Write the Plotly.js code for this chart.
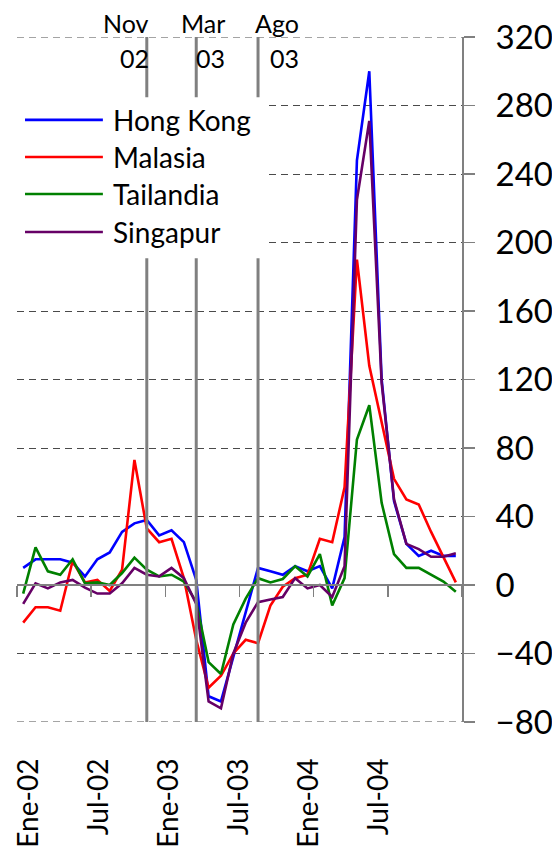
<!DOCTYPE html>
<html><head><meta charset="utf-8">
<script src="https://cdn.plot.ly/plotly-3.0.1.min.js"></script>
<style>html,body{margin:0;padding:0;background:#fff;} #chart{width:552px;height:857px;}</style>
</head><body><div id="chart"></div>
<script>
// Months Jan 2002 - Dec 2004
const months = ['Ene-02','Feb-02','Mar-02','Abr-02','May-02','Jun-02','Jul-02','Ago-02','Sep-02','Oct-02','Nov-02','Dic-02',
                'Ene-03','Feb-03','Mar-03','Abr-03','May-03','Jun-03','Jul-03','Ago-03','Sep-03','Oct-03','Nov-03','Dic-03',
                'Ene-04','Feb-04','Mar-04','Abr-04','May-04','Jun-04','Jul-04','Ago-04','Sep-04','Oct-04','Nov-04','Dic-04'];

const hongKong = [10,15,15,15,13,5,15,19,31,36,38,29,32,25,3,-65,-68,-42,-15,10,8,6,11,8,11,-2,28,248,300,120,49,24,17,20,17,17];
const malasia  = [-22,-13,-13,-15,14,1.5,3,-3.5,9,73,33,25,27,4,-32,-60,-53,-40,-32,-34,-12,-1,4,6,27,25,57,190,128,95,62,50,47,31,16,1.5];
const tailandia= [-5,22,8,6,15,1,1.5,0,7,16,9,5,6,2,-10,-45,-52,-23,-8,4,1.5,3.5,11,5,18,-12,4,85,105,48,18,10,10,6,2,-4];
const singapur = [-11,1,-2,1.5,3,-1.5,-5,-5,1,10,6,5,10,4,-11,-68,-72,-40,-22,-10,-8.5,-7,4,-2,0,-7,11,225,271,118,50,24,21,16.5,16.5,18.5];

const seriesNames  = ['Hong Kong','Malasia','Tailandia','Singapur'];
const seriesValues = [hongKong, malasia, tailandia, singapur];
const seriesColors = ['#0000FF','#FF0000','#008000','#660066'];

const tickLabels = ['Ene-02','Jul-02','Ene-03','Jul-03','Ene-04','Jul-04'];
const eventMonths = ['Nov-02','Mar-03','Ago-03'];
const eventTop = ['Nov','Mar','Ago'];
const eventBottom = ['02','03','03'];
const eventLabelShift = [4, 31, 43];   // px offset of the right edge of each event label from its line

const yMin = -80, yMax = 320;
const xIdx = months.map((m,i)=>i);
const FONT = 'Lato, "Open Sans", sans-serif';
const GRID = {color:'#4a4a4a', width:1, dash:'7px,5px'};

// last series goes on the overlay axis (x2) so it is drawn on top and the zero-line axis exists
const traces = seriesValues.map((v,k)=>({
  type:'scatter', mode:'lines', x:xIdx, y:v, name:seriesNames[k], text:months,
  xaxis: k === seriesValues.length-1 ? 'x2' : 'x', yaxis:'y',
  line:{color:seriesColors[k], width:2.6}, showlegend:false, hoverinfo:'skip'
}));

// label positions as they appear in the reference (slightly compressed spacing)
const labelPos = tickLabels.map(l => months.indexOf(l)*0.945 + 0.45);
const boundaries = [];
for (let i=0;i<=36;i+=6) boundaries.push(i-0.5);

const shapes = [];
const annotations = [];
// top and bottom gridlines (plotly skips gridlines on the range ends)
[yMin, yMax].forEach(v=>{
  shapes.push({type:'line', xref:'paper', yref:'y', x0:0, x1:1, y0:v, y1:v, layer:'below', line:GRID});
});
eventMonths.forEach((m,k)=>{
  const xi = months.indexOf(m);
  shapes.push({type:'line', xref:'x', yref:'y', x0:xi, x1:xi, y0:yMin, y1:yMax, layer:'above',
               line:{color:'#808080', width:3}});
  annotations.push({xref:'x', yref:'paper', x:xi, y:1.0204, xanchor:'right', yanchor:'middle', xshift:eventLabelShift[k],
                    text:eventTop[k], showarrow:false, font:{family:FONT, size:25, color:'#000'}});
  annotations.push({xref:'x', yref:'paper', x:xi, y:0.9693, xanchor:'right', yanchor:'middle', xshift:eventLabelShift[k],
                    text:eventBottom[k], showarrow:false, font:{family:FONT, size:25, color:'#000'}});
});
// legend box
shapes.push({type:'rect', xref:'paper', yref:'paper', x0:0, x1:0.558, y0:0.677, y1:0.912, layer:'above',
             fillcolor:'#fff', line:{width:0}});
const legY = [0.879, 0.8248, 0.7708, 0.7153];
seriesNames.forEach((n,k)=>{
  shapes.push({type:'line', xref:'paper', yref:'paper', x0:0.018, x1:0.193, y0:legY[k], y1:legY[k], layer:'above',
               line:{color:seriesColors[k], width:2.6}});
  annotations.push({xref:'paper', yref:'paper', x:0.212, y:legY[k], xanchor:'left', yanchor:'middle',
                    text:n, showarrow:false, font:{family:FONT, size:28, color:'#000'}});
});

const layout = {
  width:552, height:857,
  margin:{l:17, r:90, t:37, b:135},
  paper_bgcolor:'#fff', plot_bgcolor:'#fff',
  font:{family:FONT, color:'#000'},
  showlegend:false,
  xaxis:{range:[-0.5,35.5], tickmode:'array', tickvals:labelPos, ticktext:tickLabels, tickangle:-90,
         ticks:'', showgrid:false, zeroline:false, showline:false,
         tickfont:{family:FONT, size:28, color:'#000'}, ticklabelstandoff:30},
  xaxis2:{overlaying:'x', anchor:'free', position:(0-yMin)/(yMax-yMin), range:[-0.5,35.5], tickmode:'array', tickvals:boundaries,
          ticks:'outside', ticklen:11, tickwidth:1.5, tickcolor:'#808080', showticklabels:false,
          showline:true, linecolor:'#808080', linewidth:2, showgrid:false, zeroline:false},
  yaxis:{side:'right', range:[yMin,yMax], tickmode:'linear', tick0:yMin, dtick:40,
         ticks:'outside', ticklen:11, tickwidth:1.5, tickcolor:'#808080',
         showline:true, linecolor:'#808080', linewidth:2,
         showgrid:true, gridcolor:GRID.color, gridwidth:GRID.width, griddash:GRID.dash, zeroline:false,
         tickfont:{family:FONT, size:33, color:'#000'}, ticklabelstandoff:14},
  shapes:shapes, annotations:annotations
};

Plotly.newPlot('chart', traces, layout, {displayModeBar:false, staticPlot:true});
</script></body></html>
